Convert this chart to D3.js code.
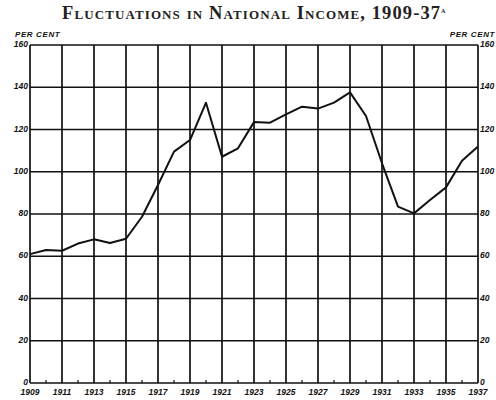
<!DOCTYPE html>
<html>
<head>
<meta charset="utf-8">
<script src="https://cdn.jsdelivr.net/npm/d3@7"></script>
<style>
  body { margin: 0; background: #fff; }
  .tick-label { font-family: "Liberation Sans", Arial, sans-serif; font-weight: bold; font-style: italic; font-size: 8.5px; fill: #111; }
</style>
</head>
<body>
<div id="wrapper"></div>
<script>
// data (index, per cent)
const years = d3.range(1909, 1938)
const income = [61, 63, 62.6, 66, 68, 66.3, 68.3, 78.7, 93.7, 109.5,
                 115, 132.7, 107.1, 111.1, 123.5, 123.2, 127.2, 130.8, 129.9, 132.7,
                 137.6, 126.4, 104, 83.5, 80.3, 86.6, 92.6, 105.2, 111.9]
const yTicks = [0, 20, 40, 60, 80, 100, 120, 140, 160]
const yearLabels = d3.range(1909, 1938, 2)

const dataset = years.map((y, i) => ({ year: y, value: income[i] }))

const dimensions = {
  width: 496,
  height: 400,
  margin: { top: 45, right: 18, bottom: 17, left: 30 },
}
dimensions.boundedWidth = dimensions.width - dimensions.margin.left - dimensions.margin.right
dimensions.boundedHeight = dimensions.height - dimensions.margin.top - dimensions.margin.bottom

const svg = d3.select("#wrapper")
  .append("svg")
  .attr("width", dimensions.width)
  .attr("height", dimensions.height)

const bounds = svg.append("g")
  .attr("transform", `translate(${dimensions.margin.left},${dimensions.margin.top})`)

const xScale = d3.scaleLinear()
  .domain([1909, 1937])
  .range([0, dimensions.boundedWidth])

const yScale = d3.scaleLinear()
  .domain([0, 160])
  .range([dimensions.boundedHeight, 0])

// grid
bounds.append("g")
  .selectAll("line")
  .data(yTicks)
  .join("line")
    .attr("x1", 0)
    .attr("x2", dimensions.boundedWidth)
    .attr("y1", d => yScale(d))
    .attr("y2", d => yScale(d))
    .attr("stroke", "#111")
    .attr("stroke-width", 1.7)

bounds.append("g")
  .selectAll("line")
  .data(yearLabels)
  .join("line")
    .attr("x1", d => xScale(d))
    .attr("x2", d => xScale(d))
    .attr("y1", 0)
    .attr("y2", dimensions.boundedHeight)
    .attr("stroke", "#111")
    .attr("stroke-width", 1.7)

// small ticks on even years
bounds.append("g")
  .selectAll("line")
  .data(years.filter(y => y % 2 == 0))
  .join("line")
    .attr("x1", d => xScale(d))
    .attr("x2", d => xScale(d))
    .attr("y1", dimensions.boundedHeight)
    .attr("y2", dimensions.boundedHeight - 3)
    .attr("stroke", "#111")
    .attr("stroke-width", 1.2)

// the line
const lineGenerator = d3.line()
  .x(d => xScale(d.year))
  .y(d => yScale(d.value))

bounds.append("path")
  .datum(dataset)
  .attr("d", lineGenerator)
  .attr("fill", "none")
  .attr("stroke", "#111")
  .attr("stroke-width", 2)
  .attr("stroke-linejoin", "round")

// axis labels
bounds.append("g")
  .selectAll("text")
  .data(yTicks)
  .join("text")
    .attr("class", "tick-label")
    .attr("x", -2)
    .attr("y", d => yScale(d) + 2)
    .attr("text-anchor", "end")
    .text(d => d)

bounds.append("g")
  .selectAll("text")
  .data(yTicks)
  .join("text")
    .attr("class", "tick-label")
    .attr("x", dimensions.boundedWidth + 2)
    .attr("y", d => yScale(d) + 2)
    .text(d => d)

bounds.append("g")
  .selectAll("text")
  .data(yearLabels)
  .join("text")
    .attr("class", "tick-label")
    .attr("x", d => xScale(d))
    .attr("y", dimensions.boundedHeight + 12)
    .attr("text-anchor", "middle")
    .text(d => d)

svg.append("text")
  .attr("class", "tick-label")
  .attr("x", 15)
  .attr("y", 37)
  .style("font-size", "8px")
  .style("letter-spacing", "0.6px")
  .text("PER CENT")

svg.append("text")
  .attr("class", "tick-label")
  .attr("x", 495)
  .attr("y", 37)
  .attr("text-anchor", "end")
  .style("font-size", "8px")
  .style("letter-spacing", "0.6px")
  .text("PER CENT")

// title
const title = svg.append("text")
  .attr("x", 62)
  .attr("y", 19)
  .style("font-family", "'Liberation Serif', serif")
  .style("font-size", "18.5px")
  .style("font-weight", "bold")
  .style("font-variant", "small-caps")
  .attr("fill", "#222")

title.append("tspan")
  .attr("textLength", 378)
  .attr("lengthAdjust", "spacing")
  .text("Fluctuations in National Income, 1909-37")
title.append("tspan")
  .attr("dy", -6)
  .style("font-size", "9px")
  .text("a")
</script>
</body>
</html>
